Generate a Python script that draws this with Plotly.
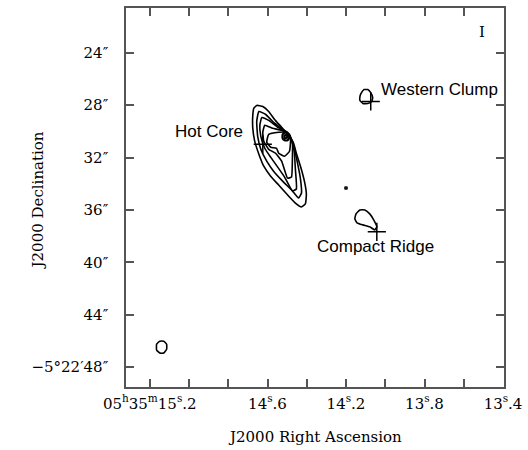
import plotly.graph_objects as go

# ---- data (RA in seconds of 05h35m, Dec in arcsec of -5d22m) ----
ra_ticks = [15.2, 15.0, 14.8, 14.6, 14.4, 14.2, 14.0, 13.8, 13.6, 13.4]
ra_ticktext = ["05<sup>h</sup>35<sup>m</sup>15<sup>s</sup>.2", "", "", "14<sup>s</sup>.6", "",
               "14<sup>s</sup>.2", "", "13<sup>s</sup>.8", "", "13<sup>s</sup>.4"]
dec_ticks = [24, 28, 32, 36, 40, 44, 48]
dec_ticktext = ["24″", "28″", "32″", "36″", "40″", "44″", "−5°22′48″"]

hc_c1_ra = [14.655, 14.624, 14.594, 14.564, 14.528, 14.493, 14.467, 14.453, 14.432, 14.412, 14.402,
            14.407, 14.427, 14.453, 14.493, 14.543, 14.584, 14.619, 14.644, 14.665, 14.675, 14.675, 14.670]
hc_c1_dec = [28.02, 28.10, 28.48, 29.09, 29.69, 30.30, 30.91, 31.67, 32.66, 33.80, 34.78,
             35.54, 35.77, 35.54, 34.93, 34.10, 33.42, 32.66, 31.74, 30.76, 29.77, 28.78, 28.25]
hc_c2_ra = [14.644, 14.609, 14.569, 14.518, 14.483, 14.463, 14.447, 14.432, 14.427, 14.442,
            14.473, 14.523, 14.569, 14.604, 14.634, 14.650, 14.655]
hc_c2_dec = [28.48, 28.71, 29.32, 29.92, 30.53, 31.37, 32.43, 33.64, 34.71, 35.09,
             34.55, 33.80, 33.04, 32.28, 31.37, 30.38, 29.24]
hc_c3_ra = [14.629, 14.594, 14.548, 14.498, 14.473, 14.463, 14.458, 14.453, 14.473, 14.513,
            14.548, 14.584, 14.614, 14.634, 14.639]
hc_c3_dec = [28.94, 29.16, 29.69, 30.07, 30.76, 31.67, 32.88, 34.40, 34.55, 33.49,
             32.73, 31.97, 31.29, 30.38, 29.54]
hc_c4_ra = [14.614, 14.574, 14.528, 14.488, 14.473, 14.473, 14.478, 14.498, 14.528, 14.559,
            14.594, 14.619, 14.624]
hc_c4_dec = [29.54, 29.77, 29.92, 30.23, 30.91, 31.90, 33.49, 33.57, 32.28, 31.67,
             31.37, 30.76, 30.07]
hc_c5_ra = [14.594, 14.543, 14.503, 14.483, 14.488, 14.513, 14.543, 14.554, 14.584, 14.604]
hc_c5_dec = [30.23, 30.07, 30.07, 30.61, 31.52, 31.90, 31.67, 31.29, 31.21, 30.83]
peak1_ra = [14.523, 14.508, 14.493, 14.488, 14.498, 14.513, 14.523]
peak1_dec = [30.23, 30.07, 30.23, 30.45, 30.68, 30.68, 30.53]
peak2_ra = [14.513, 14.503, 14.498, 14.508, 14.513]
peak2_dec = [30.30, 30.30, 30.45, 30.53, 30.45]
dot_ra = [14.205, 14.195, 14.195, 14.205]
dot_dec = [34.25, 34.25, 34.40, 34.40]
wc_ra = [14.124, 14.109, 14.089, 14.074, 14.064, 14.069, 14.089, 14.114, 14.129, 14.129]
wc_dec = [27.11, 26.81, 26.81, 27.04, 27.42, 27.72, 27.87, 27.87, 27.64, 27.34]
cr_ra = [14.149, 14.129, 14.104, 14.079, 14.059, 14.043, 14.054, 14.079, 14.114, 14.144, 14.155]
cr_dec = [36.30, 36.00, 36.00, 36.30, 36.76, 37.29, 37.52, 37.29, 37.14, 36.98, 36.68]
bl_ra = [15.165, 15.149, 15.129, 15.114, 15.114, 15.129, 15.149, 15.165]
bl_dec = [46.25, 46.02, 46.02, 46.25, 46.63, 46.93, 46.93, 46.70]

src_names = ["Hot Core", "Western Clump", "Compact Ridge"]
src_ra = [14.624, 14.074, 14.043]
src_dec = [30.99, 27.72, 37.67]
label_ra = [14.897, 13.725, 14.048]
label_dec = [30.00, 26.81, 38.81]

fig = go.Figure()

contours = [(hc_c1_ra, hc_c1_dec, 1.6), (hc_c2_ra, hc_c2_dec, 1.6), (hc_c3_ra, hc_c3_dec, 1.6),
            (hc_c4_ra, hc_c4_dec, 1.6), (hc_c5_ra, hc_c5_dec, 1.6), (peak1_ra, peak1_dec, 2.2),
            (peak2_ra, peak2_dec, 2.2), (dot_ra, dot_dec, 1.5), (wc_ra, wc_dec, 1.6),
            (cr_ra, cr_dec, 1.6), (bl_ra, bl_dec, 1.6)]
for xs, ys, w in contours:
    fig.add_trace(go.Scatter(x=list(xs) + [xs[0]], y=list(ys) + [ys[0]], mode="lines",
                             line=dict(color="black", width=w, shape="spline", smoothing=0.4),
                             hoverinfo="skip", showlegend=False))

fig.add_trace(go.Scatter(x=src_ra, y=src_dec, mode="markers",
                         marker=dict(symbol="cross-thin", size=13, line=dict(color="black", width=1.5)),
                         showlegend=False))

for name, x, y in zip(src_names, label_ra, label_dec):
    fig.add_annotation(x=x, y=y, text=name, showarrow=False,
                       font=dict(family="Liberation Sans, Arial", size=17, color="black"))
fig.add_annotation(x=13.508, y=22.41, text="I", showarrow=False,
                   font=dict(family="DejaVu Serif", size=15, color="black"))

title_font = dict(family="DejaVu Serif", size=15, color="black")
fig.add_annotation(xref="paper", yref="paper", x=-0.234, y=0.491, text="J2000 Declination",
                   textangle=-90, xanchor="center", yanchor="middle", showarrow=False, font=title_font)
fig.add_annotation(xref="paper", yref="paper", x=0.499, y=-0.131, text="J2000 Right Ascension",
                   xanchor="center", yanchor="middle", showarrow=False, font=title_font)

axis_common = dict(showline=True, linecolor="#555", linewidth=1.5, mirror="ticks",
                   ticks="inside", ticklen=8, tickwidth=1.5, tickcolor="#555",
                   showgrid=False, zeroline=False,
                   tickfont=dict(family="DejaVu Serif", size=15, color="black"))

fig.update_xaxes(range=[15.321, 13.395], tickvals=ra_ticks, ticktext=ra_ticktext,
                 ticklabelstandoff=2, **axis_common)
fig.update_yaxes(range=[49.52, 20.58], tickvals=dec_ticks, ticktext=dec_ticktext,
                 ticklabelstandoff=13, **axis_common)

fig.update_layout(width=528, height=450, margin=dict(l=126, r=21, t=6, b=63),
                  plot_bgcolor="white", paper_bgcolor="white")

fig.write_html("out.html", config={"displayModeBar": False},
               post_script="document.body.style.margin='0px';")
